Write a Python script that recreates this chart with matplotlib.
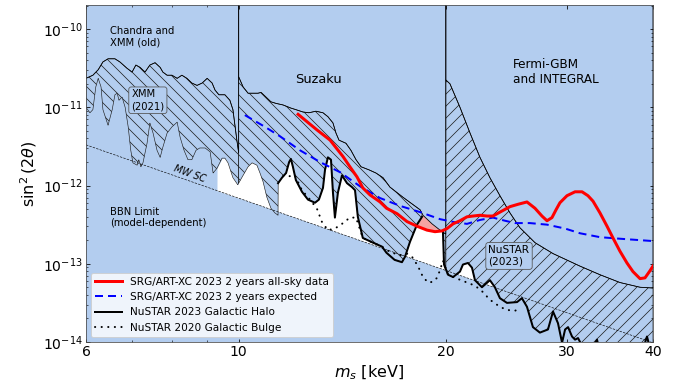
import numpy as np
import matplotlib
matplotlib.use("Agg")
import matplotlib.pyplot as plt
from matplotlib.ticker import NullFormatter

# masses in keV, limits stored as log10(sin^2 2theta)

# older X-ray limits: top of the hatched band
chandra_m = [6.00, 6.14, 6.25, 6.35, 6.46, 6.61, 6.72, 6.88, 7.00, 7.09, 7.19, 7.31, 7.43, 7.56, 7.69, 7.76, 7.87,
             8.00, 8.14, 8.27, 8.41, 8.55, 8.70, 8.85, 9.00, 9.15, 9.24, 9.36, 9.55, 9.71, 9.81, 9.94, 10.0]
chandra_lg = [-10.63, -10.59, -10.52, -10.42, -10.38, -10.38, -10.42, -10.50, -10.55, -10.46, -10.49, -10.55, -10.46,
              -10.43, -10.49, -10.55, -10.59, -10.59, -10.63, -10.59, -10.63, -10.69, -10.72, -10.69, -10.63, -10.69,
              -10.78, -10.84, -10.84, -10.91, -11.03, -11.42, -11.58]

suzaku_m = [10.0, 10.15, 10.32, 10.49, 10.67, 10.78, 10.96, 11.14, 11.33, 11.60, 11.91, 12.11, 12.40, 12.65, 12.95,
            13.26, 13.48, 13.71, 13.85, 13.99, 14.32, 14.56, 14.81, 15.06, 15.47, 15.83, 16.21, 16.59, 17.33, 18.35,
            18.53, 19.10, 19.75, 20.0]
suzaku_lg = [-10.61, -10.74, -10.82, -10.82, -10.82, -10.81, -10.87, -10.93, -10.95, -10.97, -11.01, -11.03, -11.06,
             -11.07, -11.05, -11.07, -11.12, -11.20, -11.33, -11.42, -11.46, -11.55, -11.67, -11.76, -11.80, -11.84,
             -11.90, -12.02, -12.15, -12.31, -12.38, -12.49, -12.59, -12.62]

fermi_m = [20.0, 20.28, 20.97, 21.69, 22.42, 23.18, 23.97, 24.79, 25.63, 26.95, 28.63, 31.33, 33.50, 35.82, 38.30, 40.0]
fermi_lg = [-10.65, -10.70, -11.00, -11.33, -11.64, -11.90, -12.13, -12.35, -12.54, -12.73, -12.87, -13.03, -13.14,
            -13.24, -13.30, -13.31]

# newer limits: bottom of the hatched band
xmm21_m = [6.00, 6.08, 6.14, 6.20, 6.25, 6.31, 6.35, 6.46, 6.55, 6.61, 6.66, 6.70, 6.77, 6.84, 6.91, 6.97, 7.02, 7.12,
           7.16, 7.21, 7.26, 7.36, 7.43, 7.51, 7.61, 7.69, 7.76, 7.87, 8.00, 8.14, 8.22, 8.33, 8.44, 8.55, 8.67, 8.78,
           8.94, 9.09, 9.18, 9.30, 9.46, 9.55, 9.65, 9.81, 9.97, 10.15, 10.32, 10.46, 10.63, 10.74, 10.85, 10.99,
           11.14, 11.29, 11.41]
xmm21_lg = [-11.00, -11.07, -11.03, -10.74, -10.63, -10.74, -11.03, -11.23, -11.03, -10.84,
            -10.82, -10.91, -10.87, -11.00, -11.25, -11.55, -11.71, -11.74, -11.67, -11.76,
            -11.71, -11.46, -11.20, -11.33, -11.55, -11.64, -11.51, -11.33, -11.25, -11.19,
            -11.38, -11.55, -11.67, -11.67, -11.55, -11.52, -11.52, -11.57, -11.84, -11.78,
            -11.65, -11.65, -11.71, -11.90, -11.99, -11.87, -11.76, -11.71, -11.74, -11.84,
            -11.95, -12.15, -12.29, -12.35, -12.38]

# NuSTAR 2023 galactic halo (nan = no limit in that gap)
nustar23_m = [11.41, 11.56, 11.72, 11.84, 11.91, 11.99, 12.11, 12.36, 12.61, 12.91, 13.08, 13.26, 13.35, 13.48, 13.62,
              13.71, 13.80, 13.94, 14.13, 14.37, 14.61, 14.76, 14.90, 15.15, 15.67, 16.15, 16.40, 16.85, 17.27, 17.45,
              17.74, 18.16, 18.47,
              19.0,
              19.81, 19.88, 20.15, 20.49, 20.97, 21.18, 21.54, 21.83, 22.05, 22.57, 23.18, 23.57, 23.97, 24.54, 25.38,
              25.80, 26.24, 26.77, 27.40, 28.15, 28.63, 29.11, 29.51, 29.81, 30.11, 30.51, 30.82, 31.13, 31.55, 32.41,
              33.17, 33.50, 38.56, 39.21, 39.74, 40.0]
nustar23_lg = [-11.97, -11.90, -11.84, -11.70, -11.66, -11.76, -11.93, -12.08, -12.18, -12.22, -12.18, -12.03, -11.80,
               -11.64, -11.67, -12.09, -12.41, -12.09, -11.87, -11.97, -12.02, -12.06, -12.40, -12.67, -12.73, -12.78,
               -12.86, -12.95, -12.98, -12.91, -12.72, -12.50, -12.40,
               np.nan,
               -12.59, -13.01, -13.14, -13.17, -13.10, -13.01, -12.99, -13.05, -13.21, -13.30, -13.21, -13.30, -13.44,
               -13.50, -13.49, -13.44, -13.55, -13.81, -13.88, -13.84, -13.61, -13.76, -14.01, -13.84, -13.81, -13.93,
               -13.97, -13.95, -14.05, -14.13, -13.97, -14.13, -14.13, -13.93, -14.13, -14.13]

# NuSTAR 2020 galactic bulge
nustar20_m = [11.60, 11.87, 12.07, 12.36, 12.70, 13.00, 13.22, 13.48, 13.80, 14.13, 14.51, 14.81, 15.15, 15.67, 16.15,
              16.59, 17.16, 17.56, 17.86, 18.22, 18.53, 18.85, 19.16, 19.42, 19.62, 19.81, 20.15, 20.63, 21.33, 22.05,
              22.57, 23.18, 23.97, 24.54, 25.21, 25.55]
nustar20_lg = [-11.88, -11.88, -11.87, -12.06, -12.18, -12.30, -12.47, -12.57, -12.55, -12.49, -12.41, -12.41, -12.67,
               -12.73, -12.78, -12.85, -12.89, -12.87, -12.91, -13.03, -13.17, -13.24, -13.23, -13.18, -13.08, -12.96,
               -13.14, -13.18, -13.23, -13.28, -13.35, -13.46, -13.55, -13.59, -13.60, -13.58]

# SRG/ART-XC 2 years all-sky
artxc_m = [12.20, 13.00, 13.58, 14.18, 14.51, 14.86, 15.15, 15.52, 16.05, 16.40, 16.99, 17.56, 18.16, 18.78, 19.29,
           19.75, 20.08, 20.49, 20.97, 21.47, 21.90, 22.42, 22.95, 23.42, 23.97, 24.79, 25.46, 26.24, 26.95, 27.59,
           28.06, 28.53, 28.92, 29.30, 30.00, 30.82, 31.55, 32.18, 32.73, 33.50, 34.30, 34.99, 35.82, 36.67, 37.41,
           38.30, 38.95, 39.60, 40.0]
artxc_lg = [-11.09, -11.29, -11.42, -11.63, -11.76, -11.89, -12.03, -12.12, -12.21, -12.29, -12.36, -12.46, -12.52,
            -12.57, -12.59, -12.58, -12.55, -12.49, -12.45, -12.40, -12.39, -12.38, -12.39, -12.39, -12.34, -12.27,
            -12.24, -12.21, -12.29, -12.39, -12.45, -12.41, -12.31, -12.22, -12.13, -12.08, -12.08, -12.13, -12.20,
            -12.35, -12.52, -12.67, -12.84, -12.99, -13.10, -13.19, -13.18, -13.09, -13.03]

# SRG/ART-XC expected
expected_m = [10.21, 10.92, 11.48, 12.28, 13.13, 14.04, 15.01, 16.05, 17.16, 18.35, 19.62, 20.63, 21.47, 22.42, 23.42,
              24.38, 25.21, 26.50, 28.06, 29.81, 31.33, 33.50, 35.82, 40.0]
expected_lg = [-11.10, -11.25, -11.37, -11.55, -11.70, -11.83, -12.01, -12.16, -12.26, -12.34, -12.43, -12.47, -12.49,
               -12.44, -12.41, -12.45, -12.48, -12.48, -12.50, -12.55, -12.61, -12.66, -12.68, -12.71]

# BBN / MW SC line
bbn_m = [6.0, 40.0]
bbn_lg = [-11.48, -14.01]

xticks = [6, 10, 20, 30, 40]
yticks = [1e-14, 1e-13, 1e-12, 1e-11, 1e-10]

BLUE = '#b3cdef'
plt.rcParams['hatch.linewidth'] = 0.7


def interp(m, lg, grid):
    return np.interp(np.log10(grid), np.log10(m), lg, left=np.nan, right=np.nan)


fig = plt.figure(figsize=(689 / 72, 385 / 72), dpi=72)
ax = fig.add_axes([0.1248, 0.1117, 0.8229, 0.8753])
ax.set_xscale('log')
ax.set_yscale('log')
ax.set_facecolor(BLUE)
TOP = -9.0

regions = [(6.0, 10.0, chandra_m, chandra_lg, '\\\\'),
           (10.0, 20.0, suzaku_m, suzaku_lg, '\\\\'),
           (20.0, 40.0, fermi_m, fermi_lg, '//')]

for lo, hi, om, olg, hatch in regions:
    g = np.geomspace(lo, hi, 1500)
    old = interp(om, olg, g)
    new = np.fmin(interp(xmm21_m, xmm21_lg, g), interp(nustar23_m, nustar23_lg, g))
    new = np.where(np.isnan(new), old, new)
    env = np.fmin(new, old)
    red = interp(artxc_m, artxc_lg, g)
    floor = interp(bbn_m, bbn_lg, g)
    top = np.fmin(env, red)

    # still allowed
    ax.fill_between(g, 10**floor, 10**top, where=(top > floor) & (g >= 9.3),
                    color='white', lw=0, interpolate=True, zorder=1)
    # newly excluded by ART-XC
    ax.fill_between(g, 10**np.where(np.isnan(red), env, red), 10**env, where=red < env,
                    color='#f5a3a3', lw=0, interpolate=True, zorder=1)
    # band between old and new limits
    ax.fill_between(g, 10**new, 10**old, where=new < old - 1e-6, facecolor='none',
                    edgecolor='#1a1a1a', hatch=hatch, lw=0.6, interpolate=True, zorder=2)
    # outline of the old limit region
    ax.fill_between(om, 10**np.array(olg), 10**TOP, facecolor='none',
                    edgecolor='black', lw=0.8, zorder=3)

ax.plot(bbn_m, 10**np.array(bbn_lg), color='k', lw=0.6, ls=(0, (4, 2)), zorder=2)

l4, = ax.plot(nustar20_m, 10**np.array(nustar20_lg), color='k', lw=2, ls=(0, (0.1, 3.2)),
              dash_capstyle='round', zorder=4, label='NuSTAR 2020 Galactic Bulge')
l3, = ax.plot(nustar23_m, 10**np.array(nustar23_lg), color='k', lw=2, zorder=5,
              label='NuSTAR 2023 Galactic Halo')
l2, = ax.plot(expected_m, 10**np.array(expected_lg), color='#0000ff', lw=2, ls=(0, (4, 2.5)), zorder=6,
              label='SRG/ART-XC 2023 2 years expected')
l1, = ax.plot(artxc_m, 10**np.array(artxc_lg), color='#ff0000', lw=3, zorder=7,
              label='SRG/ART-XC 2023 2 years all-sky data')

# region labels
ax.text(6.50, 10**-10.10, 'Chandra and\nXMM (old)', fontsize=10, ha='left', va='center', zorder=8)
ax.text(13.04, 10**-10.64, 'Suzaku', fontsize=13, ha='center', va='center', zorder=8)
ax.text(25.04, 10**-10.55, 'Fermi-GBM\nand INTEGRAL', fontsize=12, ha='left', va='center', zorder=8)
ax.text(6.50, 10**-12.41, 'BBN Limit\n(model-dependent)', fontsize=10, ha='left', va='center', zorder=8)
ax.text(8.50, 10**-11.85, 'MW SC', fontsize=9.5, style='italic', rotation=-20,
        ha='center', va='center', rotation_mode='anchor', zorder=8)
box = dict(boxstyle='round,pad=0.25', facecolor=BLUE, edgecolor='#555555', lw=0.8)
ax.text(7.38, 10**-10.91, 'XMM\n(2021)', fontsize=10, ha='center', va='center',
        multialignment='left', bbox=box, zorder=8)
ax.text(24.71, 10**-12.90, 'NuSTAR\n(2023)', fontsize=10.5, ha='center', va='center',
        multialignment='left', bbox=box, zorder=8)

ax.set_xlim(6, 40)
ax.set_ylim(1e-14, 2.03e-10)
ax.set_xticks(xticks)
ax.set_xticklabels([str(t) for t in xticks])
ax.set_xticks([7, 8, 9], minor=True)
ax.xaxis.set_minor_formatter(NullFormatter())
ax.set_yticks(yticks)
ax.tick_params(which='both', direction='in', top=True, right=True, labelsize=14)
for s in ax.spines.values():
    s.set_color('0.3')
    s.set_zorder(10)

ax.set_xlabel(r'$m_s$ [keV]', fontsize=16)
ax.set_ylabel(r'$\sin^2(2\theta)$', fontsize=16)

leg = ax.legend(handles=[l1, l2, l3, l4], loc='lower left', fontsize=10.5, handlelength=2.5)
leg.set_zorder(20)

fig.savefig('out.png', dpi=72)
